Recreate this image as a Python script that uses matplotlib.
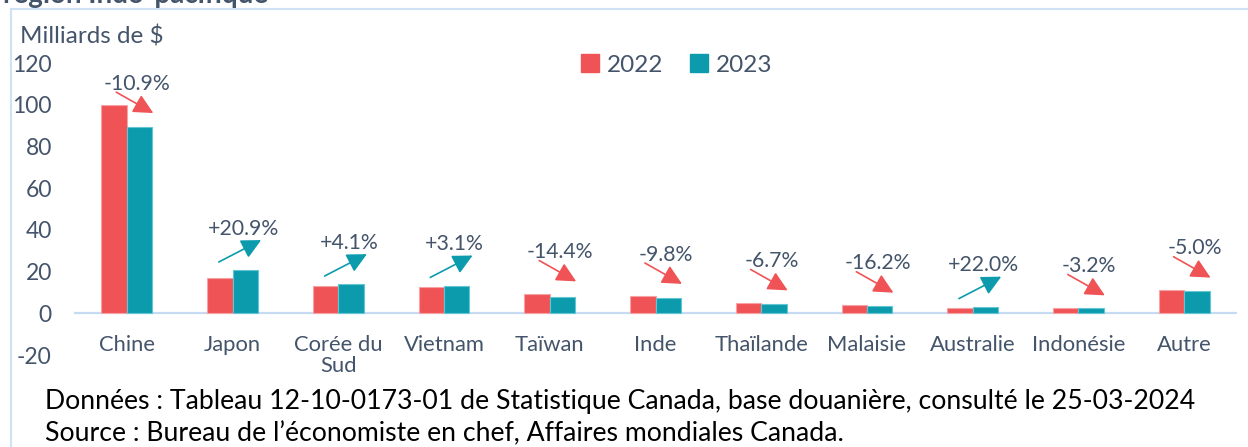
import numpy as np
import matplotlib.pyplot as plt
from matplotlib.lines import Line2D
from matplotlib.patches import Patch

# valeurs (milliards de $)
pays = ['Chine', 'Japon', 'Corée du\nSud', 'Vietnam', 'Taïwan', 'Inde',
        'Thaïlande', 'Malaisie', 'Australie', 'Indonésie', 'Autre']
val_2022 = [100.0, 17.0, 13.3, 12.8, 9.3, 8.1, 5.0, 3.9, 2.5, 2.6, 11.1]
val_2023 = [89.1, 20.6, 13.85, 13.2, 7.96, 7.3, 4.65, 3.27, 3.05, 2.5, 10.5]
variation = ['-10.9%', '+20.9%', '+4.1%', '+3.1%', '-14.4%', '-9.8%',
             '-6.7%', '-16.2%', '+22.0%', '-3.2%', '-5.0%']
annees = ['2022', '2023']

rouge = '#F05356'
sarcelle = '#0B9BAD'
gris_bleu = '#44546A'
bleu_clair = '#CFE2F3'

plt.rcParams['font.family'] = ['Lato', 'DejaVu Sans']
plt.rcParams['axes.unicode_minus'] = False

fig = plt.figure(figsize=(12.48, 4.47), dpi=100)
ax = fig.add_axes([74/1248, 1 - 355/447, (1237 - 74)/1248, (355 - 63)/447])

x = np.arange(len(pays))
w = 0.24
ax.bar(x - w/2, val_2022, w, color=rouge, edgecolor='#F7A3A5', linewidth=0.8)
ax.bar(x + w/2, val_2023, w, color=sarcelle, edgecolor='#63C6D2', linewidth=0.8)

ax.set_xlim(-0.5, len(pays) - 0.5)
ax.set_ylim(-20, 120)
ax.set_yticks(np.arange(-20, 121, 20))
ax.set_xticks([])
ax.tick_params(axis='y', length=0, pad=16, labelsize=16.5, labelcolor=gris_bleu)
for s in ax.spines.values():
    s.set_visible(False)
ax.axhline(0, color='#C6DBF1', lw=1.6, zorder=0)

# étiquettes des catégories
for i, nom in enumerate(pays):
    ax.text(i, -10.2, nom, ha='center', va='top', fontsize=15.8,
            color=gris_bleu, linespacing=1.1)

# variations et flèches
for i, lab in enumerate(variation):
    haut = max(val_2022[i], val_2023[i])
    ty = min(haut + 20, 110)
    if lab.startswith('+'):
        c = sarcelle
        debut = (i - 0.13, ty - 16)
        fin = (i + 0.27, ty - 5.5)
    else:
        c = rouge
        debut = (i - 0.1, ty - 4)
        fin = (i + 0.25, ty - 14)
    ax.annotate('', xy=fin, xytext=debut,
                arrowprops=dict(arrowstyle='-|>,head_length=1.0,head_width=0.5',
                                color=c, lw=1.2, shrinkA=0, shrinkB=0,
                                mutation_scale=12))
    ax.text(i + 0.1, ty, lab, ha='center', va='center', fontsize=15.3,
            color=gris_bleu)

# légende
poignees = [Patch(color=rouge), Patch(color=sarcelle)]
ax.legend(poignees, annees, ncol=2, frameon=False, fontsize=17.5,
          labelcolor=gris_bleu, handlelength=0.72, handleheight=0.72,
          handletextpad=0.35, columnspacing=1.1, borderpad=0,
          borderaxespad=0, loc='center left',
          bbox_to_anchor=(581/1248, 1 - 65/447), bbox_transform=fig.transFigure)

fig.text(20/1248, 1 - 37/447, 'Milliards de $', fontsize=17.5, color=gris_bleu,
         va='center', ha='left')

# titre coupé en haut
fig.text(3/1248, 1 - 3/447, 'région Indo-pacifique', fontsize=20,
         fontweight='bold', color=gris_bleu, va='baseline', ha='left')

# cadre
fig.add_artist(Line2D([11/1248, 11/1248], [0, 1 - 9/447], color=bleu_clair,
                      lw=1.5, transform=fig.transFigure))
fig.add_artist(Line2D([11/1248, 1], [1 - 9/447, 1 - 9/447], color=bleu_clair,
                      lw=1.5, transform=fig.transFigure))

fig.text(45/1248, 1 - 401/447,
         'Données : Tableau 12-10-0173-01 de Statistique Canada, base douanière, consulté le 25-03-2024',
         fontsize=19.2, color='black', va='center', ha='left')
fig.text(45/1248, 1 - 434/447,
         'Source : Bureau de l’économiste en chef, Affaires mondiales Canada.',
         fontsize=19.2, color='black', va='center', ha='left')

fig.savefig('out.png', dpi=100)
